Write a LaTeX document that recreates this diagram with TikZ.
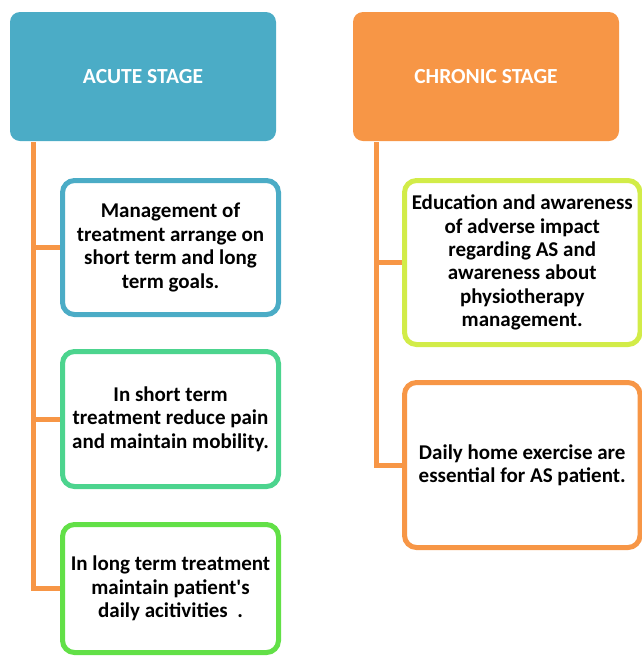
\documentclass[tikz,border=0pt]{standalone}
\usepackage{fontspec}
\setmainfont{Carlito}
\definecolor{hblue}{HTML}{4BACC6}
\definecolor{horange}{HTML}{F79646}
\definecolor{bteal}{HTML}{4CD48E}
\definecolor{bgreen}{HTML}{62E047}
\definecolor{blime}{HTML}{D2EC48}
\tikzset{
  header/.style={rounded corners=10pt, minimum width=266pt, minimum height=129pt, inner sep=0pt,
    text=white, font=\fontsize{21.5}{25}\selectfont\bfseries, align=center},
  itembox/.style={draw, line width=5pt, rounded corners=12pt, fill=white, inner sep=0pt,
    font=\fontsize{21}{23.4}\selectfont\bfseries, align=center, text=black},
  branch/.style={draw=horange, line width=5pt}
}
\begin{document}
\begin{tikzpicture}[x=1pt, y=-1pt]
\useasboundingbox (0,0) rectangle (641,657);
% headers
\node[header, fill=hblue] (acute) at (143,76.5) {ACUTE STAGE};
\node[header, fill=horange] (chronic) at (486,76.5) {CHRONIC STAGE};
% connector anchors
\coordinate (av) at (33,142);
\coordinate (cv) at (376,142);
% acute items
\node[itembox, draw=hblue, minimum width=216pt, minimum height=134pt] (a1) at (170.5,247.5)
  {Management of\\treatment arrange on\\short term and long\\term goals.};
\node[itembox, draw=bteal, minimum width=216pt, minimum height=135pt] (a2) at (170.5,419)
  {In short term\\treatment reduce pain\\and maintain mobility.};
\node[itembox, draw=bgreen, minimum width=216pt, minimum height=128pt] (a3) at (170.5,588.5)
  {In long term treatment\\maintain patient\textquotesingle s\\daily acitivities\ \ .};
% chronic items
\node[itembox, draw=blime, minimum width=235.5pt, minimum height=164pt] (c1) at (522.25,262.5)
  {Education and awareness\\of adverse impact\\regarding AS and\\awareness about\\physiotherapy\\management.};
\node[itembox, draw=horange, minimum width=235.5pt, minimum height=165pt] (c2) at (522.25,465)
  {Daily home exercise are\\essential for AS patient.};
% connectors
\draw[branch, line join=miter] (av) |- (a3.west);
\draw[branch] (av |- a1.west) -- (a1.west);
\draw[branch] (av |- a2.west) -- (a2.west);
\draw[branch, line join=miter] (cv) |- (c2.west);
\draw[branch] (cv |- c1.west) -- (c1.west);
\end{tikzpicture}
\end{document}
